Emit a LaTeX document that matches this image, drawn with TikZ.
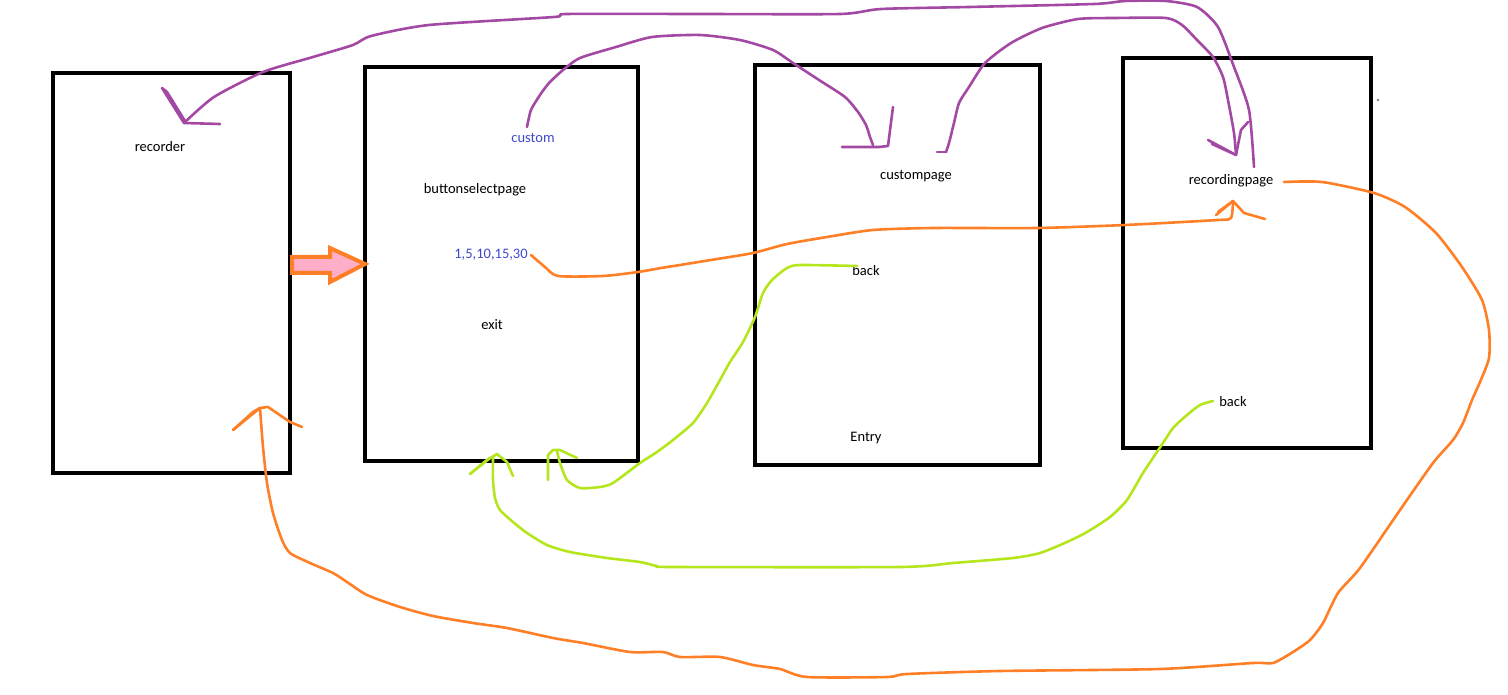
\documentclass[tikz,border=0pt]{standalone}
\usepackage{fontspec}
\setmainfont{Carlito}
\usepackage{xcolor}
\usepackage{tikz}
\usetikzlibrary{calc}
\definecolor{paintpurple}{HTML}{A349A4}
\definecolor{paintorange}{HTML}{FF7F27}
\definecolor{paintgreen}{HTML}{B5E61D}
\definecolor{paintblue}{HTML}{3F48CC}
\definecolor{paintpink}{HTML}{FFAEC9}

\begin{document}
\begin{tikzpicture}[x=1pt, y=-1pt,
  pagebox/.style={draw=black, line width=4.5pt, inner sep=0pt, outer sep=0pt},
  pagetext/.style={font=\fontsize{14.5}{17}\selectfont, text=black, inner sep=1pt},
  choicetext/.style={pagetext, text=paintblue},
  purpleline/.style={paintpurple, line width=2.6pt, line join=round, line cap=round},
  orangeline/.style={paintorange, line width=2.6pt, line join=round, line cap=round},
  greenline/.style={paintgreen, line width=2.6pt, line join=round, line cap=round}]
  \useasboundingbox (0,0) rectangle (1508,695);
  \node[pagebox, minimum width=237pt, minimum height=400pt] (recbox) at (171.5,273) {};
  \node[pagebox, minimum width=273pt, minimum height=394pt] (selbox) at (501.5,264) {};
  \node[pagebox, minimum width=285pt, minimum height=400pt] (custbox) at (897.5,265) {};
  \node[pagebox, minimum width=248pt, minimum height=390pt] (recpagebox) at (1247,253) {};
  \node[pagetext] (recorder) at (160,147) {recorder};
  \node[choicetext] (custom) at (533,138) {custom};
  \node[pagetext] (selpage) at (475,190) {buttonselectpage};
  \node[choicetext] (times) at (491,255) {1,5,10,15,30};
  \node[pagetext] (exit) at (492,325) {exit};
  \node[pagetext] (custpage) at (916,176) {custompage};
  \node[pagetext] (back1) at (866,271) {back};
  \node[pagetext] (entry) at (866,438) {Entry};
  \node[pagetext] (recpage) at (1231,181) {recordingpage};
  \node[pagetext] (back2) at (1233,402) {back};
  \fill (1378,100) circle (0.8);
  \draw[paintorange, fill=paintpink, line width=4pt, line join=miter]
    (292,257) -- (330,257) -- (330,248) -- (selbox.west) -- (330,282) -- (330,273) -- (292,273) -- cycle;
  \coordinate (tipA) at (184,123);
  \coordinate (tipB) at (873,145);
  \coordinate (tipC) at (1236,155);
  \coordinate (tipD) at (1233,201);
  \coordinate (tipE) at (260,408);
  \coordinate (tipF) at (557,451);
  \coordinate (tipG) at (493,457);
  \draw[purpleline] plot[smooth, tension=0.4] coordinates {(1254,167) (1249,110) (1234,67) (1218,27) (1197,7) (1166,1) (1125,1) (1094,4) (969,7) (881,9) (840,14) (700,14) (567,14) (554,17) (429,25) (371,36) (353,45) (313,57) (263,72) (214,97) (tipA)};
  \draw[purpleline] (220,124) -- (tipA) -- (162,88) -- (167,92) -- (185,121);
  \draw[purpleline] plot[smooth, tension=0.4] coordinates {(527,127) (531,110) (540,95) (549,83) (563,70) (580,58) (616,47) (652,37) (700,35) (740,40) (773,50) (793,63) (819,80) (845,97) (858,112) (866,125) (870,137) (tipB)};
  \draw[purpleline] (842,147) -- (879,147) -- (888,146) -- (893,107);
  \draw[purpleline] (937,152) -- (946,152);
  \draw[purpleline] plot[smooth, tension=0.4] coordinates {(946,152) (949,143) (954,123) (959,103) (969,87) (985,63) (1011,43) (1042,28) (1078,19) (1115,18) (1166,18) (1182,25) (1197,40) (1213,57) (1223,77) (1228,100) (1234,133) (tipC)};
  \draw[purpleline] (1208,140) -- (tipC) -- (1212,144);
  \draw[purpleline] (tipC) -- (1241,130) -- (1248,122);
  \draw[orangeline] plot[smooth, tension=0.4] coordinates {(531,255) (545,267) (558,276) (603,276) (638,272) (661,268) (680,265) (717,259) (753,253) (787,244) (827,237) (873,230) (933,228) (1037,228) (1125,225) (1218,220) (1231,218) (tipD)};
  \draw[orangeline] (1218,212) -- (tipD) -- (1244,213) -- (1265,219);
  \draw[orangeline] (1216,215) -- (tipD);
  \draw[orangeline] plot[smooth, tension=0.4] coordinates {(1284,182) (1322,182) (1374,193) (1405,207) (1436,233) (1462,267) (1482,300) (1489,330) (1489,358) (1480,382) (1472,400) (1463,423) (1453,440) (1433,463) (1400,510) (1360,568) (1338,593) (1323,623) (1310,640) (1293,652) (1273,663) (1253,663) (1160,669) (1000,671) (907,674) (887,677) (807,677) (780,669) (753,665) (720,657) (680,657) (663,652) (630,652) (583,643) (553,638) (507,628) (473,623) (433,616) (400,607) (367,595) (347,582) (333,573) (310,563) (290,553) (282,540) (273,513) (267,483) (263,447) (tipE)};
  \draw[orangeline] (233,430) -- (253,412) -- (tipE) -- (268,407) -- (290,422) -- (302,427);
  \draw[orangeline] (233,430) -- (tipE);
  \draw[greenline] plot[smooth, tension=0.4] coordinates {(857,266) (800,265) (787,268) (772,280) (763,293) (755,317) (743,342) (730,362) (720,380) (707,403) (693,423) (673,440) (657,452) (640,463) (613,483) (600,487) (580,488) (567,480) (560,463) (tipF)};
  \draw[greenline] (548,480) -- (548,455) -- (553,450) -- (560,450) -- (577,458);
  \draw[greenline] plot[smooth, tension=0.4] coordinates {(1213,401) (1200,405) (1187,415) (1173,428) (1163,443) (1143,473) (1127,500) (1110,517) (1087,532) (1067,542) (1040,553) (1013,558) (953,563) (900,567) (673,567) (657,566) (640,562) (607,558) (570,552) (547,545) (527,533) (513,522) (500,510) (495,498) (493,480) (tipG)};
  \draw[greenline] (470,474) -- (487,460) -- (497,454) -- (507,462) -- (513,476);
  \draw[greenline] (470,474) -- (490,458);
\end{tikzpicture}
\end{document}
